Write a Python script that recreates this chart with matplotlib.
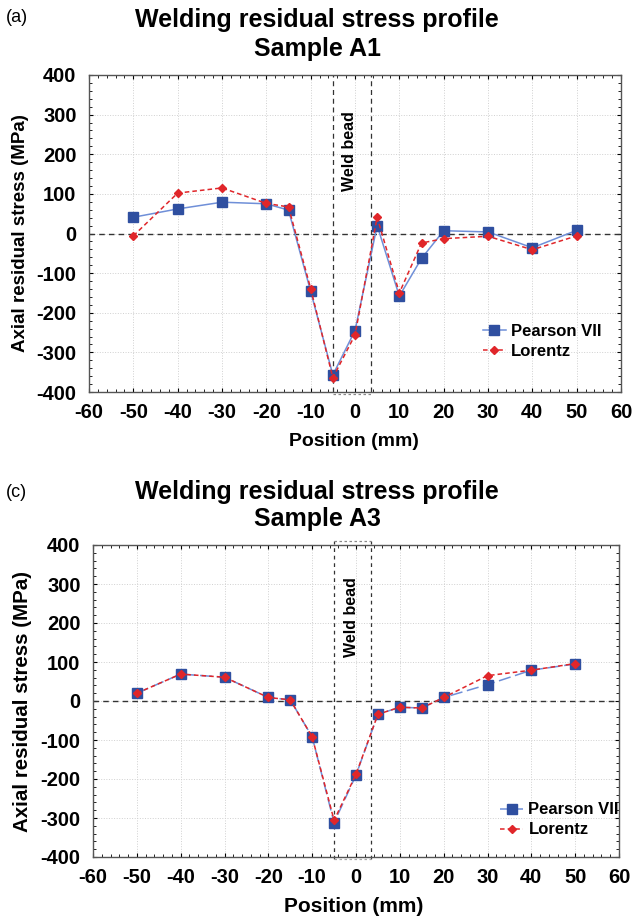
import matplotlib
matplotlib.use("Agg")
import matplotlib.pyplot as plt
from matplotlib.ticker import AutoMinorLocator

plt.rcParams['font.family'] = ['Liberation Sans', 'DejaVu Sans']
plt.rcParams['axes.unicode_minus'] = False

positions = [-50, -40, -30, -20, -15, -10, -5, 0, 5, 10, 15, 20, 30, 40, 50]

a1_pearson = [41, 62, 79, 75, 59, -146, -357, -245, 20, -158, -63, 7, 4, -36, 8]
a1_lorentz = [-6, 102, 115, 76, 67, -139, -364, -256, 41, -150, -24, -13, -7, -41, -6]

a3_pearson = [20, 69, 61, 9, 3, -92, -312, -190, -34, -16, -18, 9, 42, 79, 95]
a3_lorentz = [20, 69, 61, 9, 3, -92, -306, -188, -34, -16, -18, 9, 65, 79, 96]

weld_bead = [-5, 3.5]
xticks = list(range(-60, 61, 10))
yticks = list(range(-400, 401, 100))

W, H = 632, 917
fig = plt.figure(figsize=(W / 100, H / 100), dpi=100)

def box(l, r, t, b):
    return [l / W, 1 - b / H, (r - l) / W, (b - t) / H]

panels = [
    dict(rect=box(89, 621, 75, 392), tag="(a)", tag_y=17, title_y=[20, 49],
         sample="Sample A1", p=a1_pearson, lz=a1_lorentz, pls='-',
         xl_y=442, leg=(0.74, 0.215), wb=(-1.3, 208), top_box=False,
         yl_fs=13.5, xl_fs=14, yl_pad=5),
    dict(rect=box(93, 619, 545, 857), tag="(c)", tag_y=493, title_y=[492, 519],
         sample="Sample A3", p=a3_pearson, lz=a3_lorentz, pls=(0, (8, 3)),
         xl_y=907, leg=(0.774, 0.175), wb=(-1.1, 215), top_box=True,
         yl_fs=14.8, xl_fs=15, yl_pad=6),
]

blue_line = '#6f8fd8'
blue_mark = '#2f4fa0'
red = '#e0262a'

for P in panels:
    ax = fig.add_axes(P['rect'])
    ax.set_xlim(-60, 60)
    ax.set_ylim(-400, 400)
    ax.set_xticks(xticks)
    ax.set_yticks(yticks)
    ax.xaxis.set_minor_locator(AutoMinorLocator(5))
    ax.yaxis.set_minor_locator(AutoMinorLocator(5))
    ax.tick_params(which='both', direction='in', top=True, right=True)
    ax.tick_params(which='major', length=3, width=0.8, labelsize=14.5)
    ax.tick_params(axis='x', which='major', pad=8)
    ax.tick_params(axis='y', which='major', pad=9)
    ax.tick_params(which='minor', length=2, width=0.6)
    for lab in ax.get_xticklabels() + ax.get_yticklabels():
        lab.set_fontweight('bold')
    ax.grid(True, which='major', color='#d0d0d0', linestyle=':', linewidth=0.7)
    for s in ax.spines.values():
        s.set_color('#555555')
        s.set_linewidth(1.0)

    ax.axhline(0, color='#333333', linestyle=(0, (4, 3)), linewidth=1.0)
    if P['top_box']:
        ax.plot([weld_bead[0], weld_bead[0]], [-405, 410], color='#333333',
                linestyle=(0, (3, 3)), linewidth=0.9, clip_on=False)
        ax.plot([weld_bead[1], weld_bead[1]], [-405, 410], color='#333333',
                linestyle=(0, (3, 3)), linewidth=0.9, clip_on=False)
        ax.plot(weld_bead, [410, 410], color='#888888', linestyle=(0, (2, 2)),
                linewidth=0.9, clip_on=False)
        ax.plot(weld_bead, [-405, -405], color='#aaaaaa', linestyle=(0, (2, 2)),
                linewidth=0.9, clip_on=False)
    else:
        for xv in weld_bead:
            ax.axvline(xv, color='#333333', linestyle=(0, (4, 3)), linewidth=0.9)
        ax.plot(weld_bead, [-404, -404], color='#888888', linestyle=(0, (2, 2)),
                linewidth=0.9, clip_on=False)
    ax.text(P['wb'][0], P['wb'][1], "Weld bead", rotation=90, ha='center',
            va='center', fontsize=11.5, fontweight='bold')

    ax.plot(positions, P['p'], color=blue_line, linestyle=P['pls'], linewidth=1.1,
            marker='s', markersize=6.5, markerfacecolor=blue_mark,
            markeredgecolor=blue_mark, label='Pearson VII', zorder=3)
    ax.plot(positions, P['lz'], color=red, linestyle=(0, (3, 2)), linewidth=1.1,
            marker='D', markersize=4, markerfacecolor=red, markeredgecolor=red,
            label='Lorentz', zorder=4)

    ax.legend(loc='upper left', bbox_to_anchor=P['leg'], frameon=False,
              prop={'weight': 'bold', 'size': 12}, handlelength=1.4,
              handletextpad=0.3, labelspacing=0.3, borderpad=0,
              borderaxespad=0)

    ax.set_ylabel("Axial residual stress (MPa)", fontsize=P['yl_fs'],
                  fontweight='bold', labelpad=P['yl_pad'])
    fig.text(354 / W, 1 - P['xl_y'] / H, "Position (mm)", ha='center', va='center',
             fontsize=P['xl_fs'], fontweight='bold')
    fig.text(317 / W, 1 - P['title_y'][0] / H, "Welding residual stress profile",
             ha='center', va='center', fontsize=18, fontweight='bold')
    fig.text(317 / W, 1 - P['title_y'][1] / H, P['sample'],
             ha='center', va='center', fontsize=18, fontweight='bold')
    fig.text(6 / W, 1 - P['tag_y'] / H, P['tag'], ha='left', va='center',
             fontsize=13)

fig.savefig("out.png", dpi=100)
